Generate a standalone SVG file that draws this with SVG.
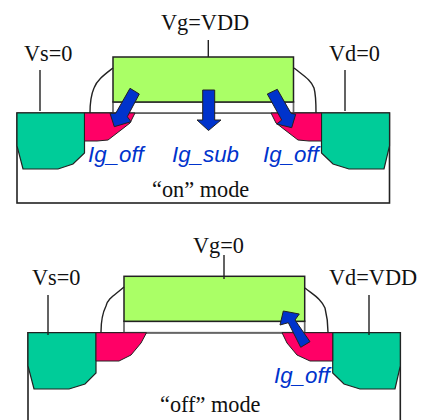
<svg xmlns="http://www.w3.org/2000/svg" width="422" height="420" viewBox="0 0 422 420">
<style>
.l{font-family:"Liberation Serif","Times New Roman",serif;font-size:22.3px;fill:#111}
.i{font-family:"Liberation Sans",Arial,sans-serif;font-style:italic;font-size:22.3px;fill:#0033cc}
.sub{fill:#fff;stroke:#222;stroke-width:1.6}
.ox{fill:#fff;stroke:#666;stroke-width:1.7}
.gate{fill:#aaff66;stroke:#222;stroke-width:1.5}
.sd{fill:#00cc99;stroke:#222;stroke-width:1.2}
.ext{fill:#ff0066;stroke:#222;stroke-width:1}
.w{fill:none;stroke:#222;stroke-width:1.4}
.a{fill:#0033cc;stroke:#222;stroke-width:1}
</style>
<g id="on-mode">
<g id="on-substrate"><rect class="sub" x="17" y="113" width="372.500" height="90"/></g>
<g id="on-oxide"><rect class="ox" x="113" y="102" width="180.500" height="11"/></g>
<g id="on-gate"><rect class="gate" x="113" y="57" width="180.500" height="45"/></g>
<g id="on-source"><path class="sd" d="M17 113H84.500V153L73 164L58 169H23L17 146Z"/></g>
<g id="on-source-ext"><path class="ext" d="M84.500 113H135L130 123L121 130L108 140L97 141H84.500Z"/></g>
<g id="on-drain"><path class="sd" d="M389.500 113H321.500V153L333 164L349 169H384L389.500 146Z"/></g>
<g id="on-drain-ext"><path class="ext" d="M321.500 113H271L276 123L285 130L298 140L309 141H321.500Z"/></g>
</g>
<g id="off-mode">
<g id="off-substrate"><path class="sub" d="M28 420V332.700H400.300V420"/></g>
<g id="off-oxide"><rect class="ox" x="124" y="321.300" width="180.700" height="11.400"/></g>
<g id="off-gate"><rect class="gate" x="124" y="276.300" width="180.700" height="45"/></g>
<g id="off-source"><path class="sd" d="M28 332.700H96V373L85 384L69 389H34L28 366Z"/></g>
<g id="off-source-ext"><path class="ext" d="M96 332.700H146.500L141 343L131 355L119 361H96Z"/></g>
<g id="off-drain"><path class="sd" d="M400.300 332.700H332.700V373L344 384L360 389H395L400.300 366Z"/></g>
<g id="off-drain-ext"><path class="ext" d="M332.700 332.700H282L287 343L297 355L310 361H332.700Z"/></g>
</g>
<g id="connectors">
<path class="w" d="M40 70V111M345 70V111M208.300 40V57M48 295V335M224 255V279M369 295V335"/>
<path class="w" d="M113 68C104 75 97 80 94 88C91 95 90 103 90 113"/>
<path class="w" d="M294 68C304 76 311 80 314 88C316 95 316 103 316 113"/>
<path class="w" d="M124 287C115 295 108 298 106 306C102 314 101 322 101 332"/>
<path class="w" d="M305 288C315 296 321 299 325 308C327 316 328 323 328 332"/>
<path class="a" d="M130 88.300L139.300 94L127.300 116.700L131 121.700L114.300 126.700L110 113.300L115.700 113.300Z"/>
<path class="a" d="M202.700 90H214.700V120H221L208.500 130.500L197 120H202.700Z"/>
<path class="a" d="M267.300 94L277.300 89.300L291 113.300L295.700 114.300L291.700 127.700L276.700 124L281.700 120Z"/>
<path class="a" d="M283.300 311L299.300 314L295 320L310 341.700L300.700 347.300L288.300 322.700L280 325Z"/>
</g>
<g id="labels">
<text class="l" x="161" y="30">Vg=VDD</text>
<text class="l" x="24" y="61">Vs=0</text>
<text class="l" x="329" y="61">Vd=0</text>
<text class="l" x="152" y="197">“on” mode</text>
<text class="i" x="88" y="162">Ig_off</text>
<text class="i" x="172" y="162">Ig_sub</text>
<text class="i" x="263" y="162">Ig_off</text>
<text class="l" x="193" y="253">Vg=0</text>
<text class="l" x="32" y="285">Vs=0</text>
<text class="l" x="329" y="285">Vd=VDD</text>
<text class="l" x="160" y="412">“off” mode</text>
<text class="i" x="274" y="383">Ig_off</text>
</g>
</svg>
